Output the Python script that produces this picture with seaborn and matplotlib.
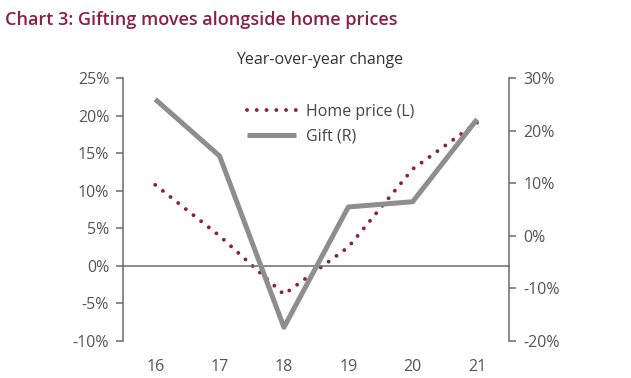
import matplotlib
matplotlib.use("Agg")
import matplotlib.pyplot as plt
import seaborn as sns
import pandas as pd
from matplotlib.ticker import FuncFormatter, FixedLocator

years = [16, 17, 18, 19, 20, 21]
year_labels = ["16", "17", "18", "19", "20", "21"]
home_price = [10.8, 4.0, -3.8, 2.5, 12.9, 19.1]   # left axis, %
gift = [26.0, 15.2, -17.4, 5.5, 6.5, 22.2]         # right axis, %

sns.set_style("white")
plt.rcParams["font.family"] = ["Open Sans", "DejaVu Sans"]

df = pd.DataFrame({"year": years, "home": home_price, "gift": gift})

fig = plt.figure(figsize=(6.31, 3.78), dpi=100)
ax = fig.add_axes([0.195, 0.098, 0.612, 0.695])
ax2 = ax.twinx()

maroon = "#8C1F43"
gray_line = "#8e8e8e"
spine_c = "#6b6b6b"
text_c = "#555555"

sns.lineplot(data=df, x="year", y="home", ax=ax, color=maroon, lw=2.8,
             linestyle=(0, (0.01, 2.5)), dash_capstyle="round",
             label="Home price (L)", legend=False)
sns.lineplot(data=df, x="year", y="gift", ax=ax2, color=gray_line, lw=3.6,
             solid_capstyle="butt", label="Gift (R)", legend=False)

ax.set_xlim(15.5, 21.5)
ax.set_ylim(-10, 25)
ax2.set_ylim(-20, 30)
ax.set_yticks([-10, -5, 0, 5, 10, 15, 20, 25])
ax2.set_yticks([-20, -10, 0, 10, 20, 30])
pct = FuncFormatter(lambda v, p: f"{v:.0f}%")
ax.yaxis.set_major_formatter(pct)
ax2.yaxis.set_major_formatter(pct)

for a in (ax, ax2):
    a.set_xlabel("")
    a.set_ylabel("")
    a.grid(False)
    for s in a.spines.values():
        s.set_color(spine_c)
        s.set_linewidth(1.1)
    a.spines["top"].set_visible(False)

ax.spines["right"].set_visible(False)
ax2.spines["left"].set_visible(False)
ax2.spines["bottom"].set_visible(False)

# zero line with boundary ticks
ax.spines["bottom"].set_position(("data", 0))
ax.xaxis.set_major_locator(FixedLocator(years))
ax.xaxis.set_minor_locator(FixedLocator([16.5, 17.5, 18.5, 19.5, 20.5]))
ax.tick_params(axis="x", which="major", length=0, labelbottom=False)
ax.tick_params(axis="x", which="minor", direction="out", length=4,
               width=1.1, color=spine_c)

ax.tick_params(axis="y", direction="out", length=5, width=1.1, color=spine_c,
               labelsize=11.5, labelcolor=text_c, pad=5)
ax2.tick_params(axis="y", direction="out", length=5, width=1.1, color=spine_c,
                labelsize=11.5, labelcolor=text_c, pad=5)

sec = ax.secondary_xaxis("bottom")
sec.set_xticks(years, year_labels)
sec.spines["bottom"].set_visible(False)
sec.tick_params(length=0, labelsize=11.5, labelcolor=text_c, pad=13)

h1, l1 = ax.get_legend_handles_labels()
h2, l2 = ax2.get_legend_handles_labels()
leg = ax2.legend(h1 + h2, l1 + l2, loc="upper left", bbox_to_anchor=(0.32, 0.903),
                 frameon=False, fontsize=11.5, handlelength=3.1, handletextpad=0.6,
                 labelspacing=0.55, borderpad=0, borderaxespad=0)
for t in leg.get_texts():
    t.set_color("#444444")

fig.text(5 / 631, 1 - 20 / 378, "Chart 3: Gifting moves alongside home prices",
         ha="left", va="center", fontsize=13, fontweight="semibold", color=maroon)
fig.text(320 / 631, 1 - 60 / 378, "Year-over-year change", ha="center", va="center",
         fontsize=11.5, color="#333333")

fig.savefig("out.png", dpi=100)
